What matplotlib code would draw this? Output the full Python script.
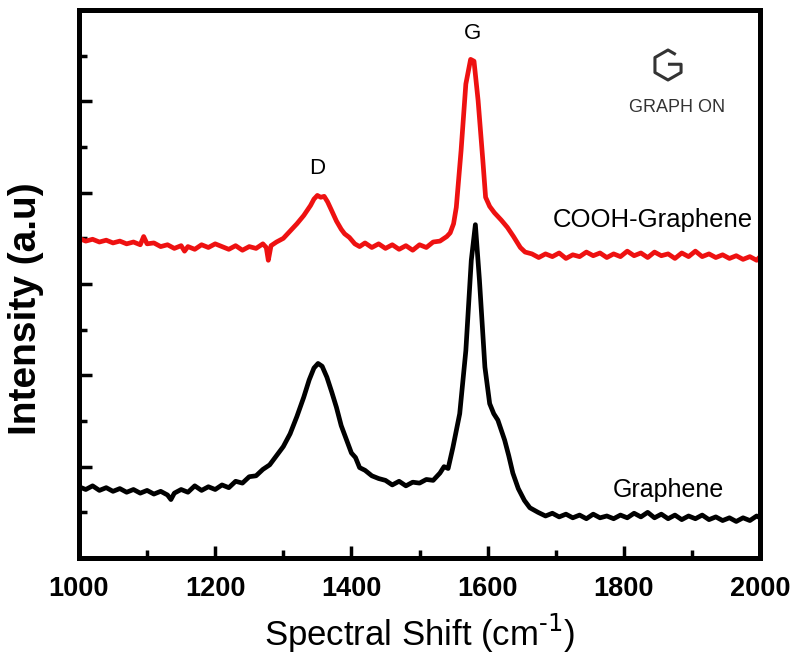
import matplotlib.pyplot as plt
from matplotlib.ticker import MultipleLocator
from matplotlib.lines import Line2D

# Raman spectra (intensity in arbitrary units)
shift_cooh = [1000, 1010, 1020, 1030, 1040, 1050, 1060, 1070, 1080, 1090,
              1095, 1100, 1110, 1120, 1130, 1140, 1150, 1155, 1160, 1170,
              1180, 1190, 1200, 1210, 1220, 1230, 1240, 1250, 1260, 1270,
              1275, 1278, 1282, 1290, 1300, 1310, 1320, 1330, 1340, 1345,
              1350, 1355, 1360, 1365, 1370, 1378, 1385, 1390, 1397, 1405,
              1412, 1420, 1430, 1440, 1450, 1460, 1470, 1480, 1490, 1500,
              1510, 1520, 1530, 1540, 1545, 1550, 1554, 1561, 1568, 1575,
              1580, 1586, 1593, 1597, 1603, 1610, 1620, 1629, 1638, 1648,
              1655, 1665, 1675, 1685, 1695, 1705, 1715, 1725, 1735, 1745,
              1755, 1765, 1775, 1785, 1795, 1805, 1815, 1825, 1835, 1845,
              1855, 1865, 1875, 1885, 1895, 1905, 1915, 1925, 1935, 1945,
              1955, 1965, 1975, 1985, 1995, 2000]
int_cooh = [3.50, 3.47, 3.49, 3.46, 3.48, 3.45, 3.47, 3.44, 3.46, 3.43,
            3.52, 3.44, 3.45, 3.41, 3.43, 3.39, 3.42, 3.36, 3.41, 3.38,
            3.43, 3.40, 3.44, 3.41, 3.38, 3.42, 3.37, 3.41, 3.39, 3.44,
            3.40, 3.26, 3.42, 3.46, 3.50, 3.58, 3.66, 3.75, 3.86, 3.93,
            3.97, 3.95, 3.96, 3.90, 3.82, 3.69, 3.60, 3.55, 3.51, 3.44,
            3.41, 3.45, 3.40, 3.44, 3.39, 3.43, 3.38, 3.42, 3.37, 3.43,
            3.40, 3.46, 3.47, 3.52, 3.56, 3.66, 3.84, 4.46, 5.19, 5.46,
            5.44, 5.01, 4.35, 3.95, 3.85, 3.78, 3.70, 3.62, 3.52, 3.40,
            3.35, 3.33, 3.29, 3.33, 3.30, 3.34, 3.28, 3.32, 3.30, 3.35,
            3.31, 3.34, 3.29, 3.33, 3.30, 3.36, 3.31, 3.34, 3.29, 3.35,
            3.31, 3.33, 3.28, 3.34, 3.30, 3.36, 3.30, 3.33, 3.29, 3.32,
            3.28, 3.31, 3.27, 3.30, 3.26, 3.30]

shift_gr = [1000, 1010, 1020, 1030, 1040, 1050, 1060, 1070, 1080, 1090,
            1100, 1110, 1120, 1130, 1135, 1140, 1150, 1160, 1170, 1180,
            1190, 1200, 1210, 1220, 1230, 1240, 1250, 1260, 1270, 1280,
            1290, 1300, 1310, 1320, 1330, 1338, 1345, 1351, 1357, 1364,
            1371, 1378, 1385, 1393, 1400, 1406, 1412, 1420, 1430, 1440,
            1450, 1460, 1470, 1480, 1490, 1500, 1510, 1520, 1530, 1536,
            1542, 1549, 1559, 1568, 1576, 1582, 1588, 1596, 1603, 1609,
            1615, 1625, 1631, 1637, 1645, 1654, 1662, 1674, 1685, 1695,
            1705, 1715, 1725, 1735, 1745, 1755, 1765, 1775, 1785, 1795,
            1805, 1815, 1825, 1835, 1845, 1855, 1865, 1875, 1885, 1895,
            1905, 1915, 1925, 1935, 1945, 1955, 1965, 1975, 1985, 1995,
            2000]
int_gr = [0.78, 0.75, 0.79, 0.74, 0.77, 0.73, 0.76, 0.72, 0.75, 0.71,
          0.74, 0.70, 0.73, 0.69, 0.64, 0.71, 0.75, 0.72, 0.79, 0.74,
          0.78, 0.75, 0.80, 0.77, 0.84, 0.82, 0.89, 0.90, 0.97, 1.02,
          1.12, 1.22, 1.36, 1.55, 1.76, 1.95, 2.08, 2.13, 2.10, 1.98,
          1.82, 1.65, 1.45, 1.29, 1.15, 1.10, 0.99, 0.96, 0.90, 0.87,
          0.85, 0.80, 0.84, 0.79, 0.83, 0.82, 0.86, 0.85, 0.93, 1.00,
          0.98, 1.21, 1.58, 2.27, 3.26, 3.65, 3.04, 2.09, 1.69, 1.58,
          1.51, 1.29, 1.12, 0.93, 0.76, 0.63, 0.55, 0.50, 0.46, 0.49,
          0.45, 0.48, 0.44, 0.47, 0.43, 0.48, 0.44, 0.46, 0.43, 0.47,
          0.44, 0.49, 0.45, 0.50, 0.44, 0.48, 0.43, 0.47, 0.42, 0.46,
          0.43, 0.47, 0.42, 0.45, 0.41, 0.44, 0.40, 0.44, 0.41, 0.46,
          0.44]

x_ticks = [1000, 1200, 1400, 1600, 1800, 2000]

plt.rcParams['font.family'] = ['Liberation Sans', 'DejaVu Sans']

fig = plt.figure(figsize=(7.92, 6.57), dpi=100)
ax = fig.add_axes([0.0997, 0.1507, 0.86, 0.834])

ax.plot(shift_cooh, int_cooh, color='#ee1111', lw=3.4)
ax.plot(shift_gr, int_gr, color='black', lw=3.4)

ax.set_xlim(1000, 2000)
ax.set_ylim(0, 6)
ax.set_xticks(x_ticks)
ax.xaxis.set_minor_locator(MultipleLocator(100))
ax.yaxis.set_major_locator(MultipleLocator(1))
ax.yaxis.set_minor_locator(MultipleLocator(0.5))
ax.set_yticklabels([])
ax.tick_params(which='both', direction='in', width=2.5, top=False, right=False)
ax.tick_params(which='major', length=9)
ax.tick_params(which='minor', length=6)
ax.tick_params(axis='x', labelsize=19.5, pad=13)
for lab in ax.get_xticklabels():
    lab.set_fontweight('bold')
for sp in ax.spines.values():
    sp.set_linewidth(3.6)

ax.set_xlabel('Spectral Shift (cm$^{\\text{-1}}$)', fontsize=25, labelpad=7)
ax.set_ylabel('Intensity (a.u)', fontsize=28, fontweight='bold')
ax.yaxis.set_label_coords(-0.052, 0.455)

ax.text(1350, 4.26, 'D', fontsize=16, ha='center', va='center')
ax.text(1578, 5.74, 'G', fontsize=16, ha='center', va='center')
ax.text(0.99, 0.617, 'COOH-Graphene', transform=ax.transAxes, fontsize=18.5,
        ha='right', va='center')
ax.text(0.947, 0.124, 'Graphene', transform=ax.transAxes, fontsize=18,
        ha='right', va='center')

# logo in the upper right corner: hexagon bent into a G, plus the name
r = 0.15
hx = [0.43 * r, 0, -0.87 * r, -0.87 * r, 0, 0.87 * r, 0.87 * r, 0.1 * r]
hy = [0.75 * r, r, 0.5 * r, -0.5 * r, -r, -0.5 * r, 0.05 * r, 0.05 * r]
fig.add_artist(Line2D([6.68 + v for v in hx], [5.92 + v for v in hy],
                      transform=fig.dpi_scale_trans, color='#333333', lw=2.2))
ax.text(0.878, 0.823, 'GRAPH ON', transform=ax.transAxes, fontsize=13,
        color='#333333', ha='center', va='center')

fig.savefig('out.png', dpi=100)
